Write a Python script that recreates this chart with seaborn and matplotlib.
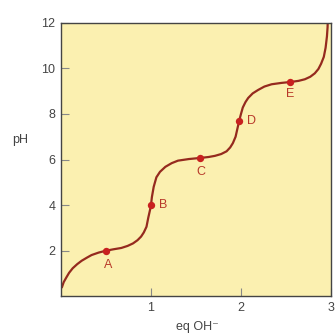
import matplotlib
matplotlib.use("Agg")
import matplotlib.pyplot as plt
import seaborn as sns

# titration curve (eq OH- vs pH)
curve_eq = [0.01, 0.03, 0.06, 0.09, 0.13, 0.18, 0.23, 0.29, 0.34, 0.42,
            0.50, 0.58, 0.67, 0.74, 0.80, 0.85, 0.89, 0.92, 0.95, 0.97,
            0.99, 1.00, 1.01, 1.03, 1.06, 1.10, 1.16, 1.23, 1.30, 1.42,
            1.55, 1.64, 1.71, 1.78, 1.84, 1.88, 1.91, 1.94, 1.96, 1.98,
            2.00, 2.02, 2.05, 2.08, 2.13, 2.19, 2.26, 2.34, 2.45, 2.55,
            2.64, 2.71, 2.77, 2.82, 2.86, 2.89, 2.92, 2.94, 2.955, 2.962, 2.965]
curve_ph = [0.39, 0.62, 0.83, 1.03, 1.23, 1.41, 1.56, 1.70, 1.81, 1.92,
            2.00, 2.06, 2.12, 2.21, 2.32, 2.46, 2.62, 2.80, 3.05, 3.45,
            3.80, 4.00, 4.35, 4.80, 5.22, 5.46, 5.68, 5.84, 5.95, 6.02,
            6.07, 6.11, 6.16, 6.24, 6.36, 6.53, 6.72, 7.00, 7.35, 7.70,
            8.00, 8.28, 8.52, 8.70, 8.90, 9.05, 9.20, 9.30, 9.36, 9.40,
            9.45, 9.52, 9.63, 9.78, 9.97, 10.2, 10.5, 10.9, 11.4, 11.8, 12.2]

# marked points
point_labels = ["A", "B", "C", "D", "E"]
point_eq = [0.50, 1.00, 1.55, 1.98, 2.55]
point_ph = [2.00, 4.00, 6.05, 7.70, 9.40]
label_offsets = [(1.5, -10), (9, 0), (0, -10), (9, 0), (0, -9)]

x_ticks = [1, 2, 3]
y_ticks = [2, 4, 6, 8, 10, 12]

sns.set_theme(style="white")
plt.rcParams["font.family"] = ["Liberation Sans", "DejaVu Sans"]
plt.rcParams["font.size"] = 9

bg = "#FBF0B0"
curve_color = "#952A1E"
dot_color = "#C8211F"
label_color = "#B8392A"

fig = plt.figure(figsize=(3.36, 3.35), dpi=100)
ax = fig.add_axes([0.1815, 0.1155, 0.8036, 0.8167])
ax.set_facecolor(bg)

sns.lineplot(x=curve_eq, y=curve_ph, sort=False, estimator=None,
             color=curve_color, linewidth=1.6, ax=ax)
sns.scatterplot(x=point_eq, y=point_ph, color=dot_color, s=28,
                edgecolor=dot_color, linewidth=0, zorder=3, ax=ax)

for lab, px, py, off in zip(point_labels, point_eq, point_ph, label_offsets):
    ax.annotate(lab, (px, py), xytext=off, textcoords="offset points",
                ha="center", va="center", color=label_color, fontsize=9)

ax.set_xlim(0, 3)
ax.set_ylim(0, 12)
ax.set_xticks(x_ticks)
ax.set_yticks(y_ticks)
ax.tick_params(direction="in", length=6, width=0.8, color="#888888",
               labelsize=9, labelcolor="#444444", pad=4,
               bottom=True, left=True)

for s in ax.spines.values():
    s.set_color("#444444")
    s.set_linewidth(1.0)

ax.set_xlabel("eq OH\u207b", fontsize=9, color="#444444")
ax.xaxis.set_label_coords(0.504, -0.112)
ax.xaxis.label.set_va("center")
ax.set_ylabel("pH", fontsize=9, color="#444444", rotation=0,
              ha="center", va="center")
ax.yaxis.set_label_coords(-0.152, 0.571)

fig.savefig("out.png", dpi=100)
